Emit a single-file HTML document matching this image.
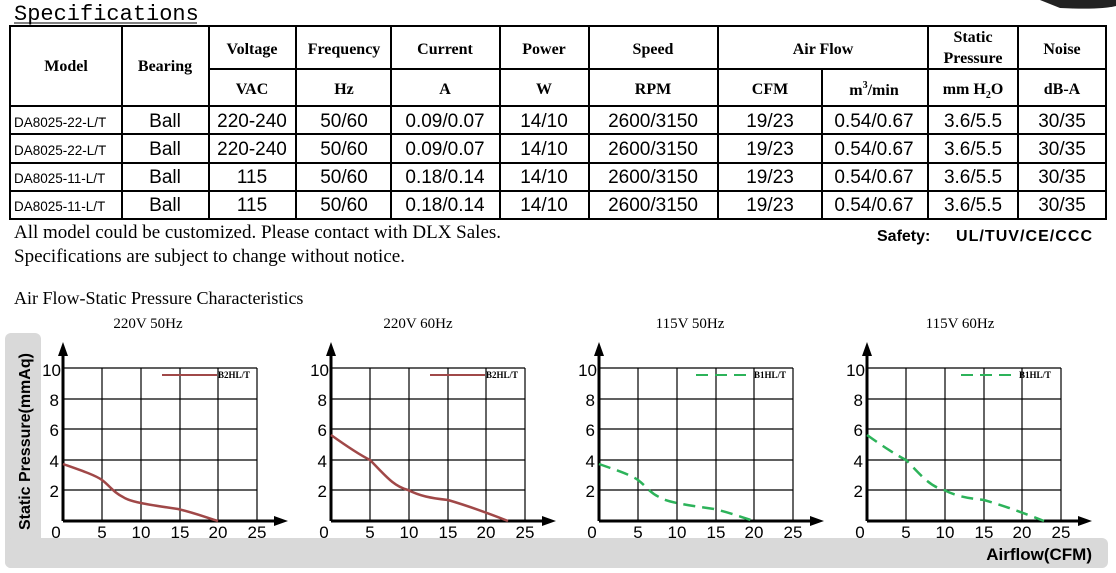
<!DOCTYPE html>
<html><head><meta charset="utf-8"><style>
html,body{margin:0;padding:0;background:#fff;width:1116px;height:573px;overflow:hidden}
svg{display:block}
.hd{font-family:"Liberation Serif",serif;font-weight:bold;font-size:16px;text-anchor:middle}
.dt{font-family:"Liberation Sans",sans-serif;font-size:19px;text-anchor:middle}
.md{font-family:"Liberation Sans",sans-serif;font-size:13.5px}
.tk{font-family:"Liberation Sans",sans-serif;font-size:17px}
.ct{font-family:"Liberation Serif",serif;font-size:15px;text-anchor:middle}
.lg{font-family:"Liberation Serif",serif;font-weight:bold;font-size:9px}
</style></head><body>
<svg width="1116" height="573" viewBox="0 0 1116 573">
<path d="M1040 0 H1116 V6 Q1100 10 1060 8 Z" fill="#222"/>
<text x="14" y="20" font-family="Liberation Mono,monospace" font-size="22">Specifications</text>
<line x1="14" y1="23" x2="197" y2="23" stroke="#000" stroke-width="1"/>
<g stroke="#000" stroke-width="2" fill="none">
<rect x="10" y="26" width="1096" height="193"/>
<line x1="209" y1="69" x2="1106" y2="69"/>
<line x1="10" y1="106" x2="1106" y2="106"/>
<line x1="10" y1="134" x2="1106" y2="134"/>
<line x1="10" y1="163" x2="1106" y2="163"/>
<line x1="10" y1="191" x2="1106" y2="191"/>
<line x1="122" y1="26" x2="122" y2="219"/>
<line x1="209" y1="26" x2="209" y2="219"/>
<line x1="296" y1="26" x2="296" y2="219"/>
<line x1="391" y1="26" x2="391" y2="219"/>
<line x1="500" y1="26" x2="500" y2="219"/>
<line x1="589" y1="26" x2="589" y2="219"/>
<line x1="718" y1="26" x2="718" y2="219"/>
<line x1="822" y1="69" x2="822" y2="219"/>
<line x1="928" y1="26" x2="928" y2="219"/>
<line x1="1018" y1="26" x2="1018" y2="219"/>
</g>
<g class="hd">
<text x="66" y="71">Model</text><text x="165" y="71">Bearing</text>
<text x="252" y="54">Voltage</text><text x="344" y="54">Frequency</text><text x="445" y="54">Current</text>
<text x="544" y="54">Power</text><text x="653" y="54">Speed</text><text x="823" y="54">Air Flow</text>
<text x="973" y="42">Static</text><text x="973" y="63">Pressure</text><text x="1062" y="54">Noise</text>
<text x="252" y="94">VAC</text><text x="344" y="94">Hz</text><text x="445" y="94">A</text><text x="544" y="94">W</text>
<text x="653" y="94">RPM</text><text x="770" y="94">CFM</text><text x="874" y="95">m<tspan font-size="10" dy="-7">3</tspan><tspan dy="7">/min</tspan></text>
<text x="973" y="94">mm H<tspan font-size="10" dy="4">2</tspan><tspan dy="-4">O</tspan></text><text x="1062" y="94">dB-A</text>
</g>
<g>
<g class="md"><text x="14" y="127">DA8025-22-L/T</text><text x="14" y="155">DA8025-22-L/T</text><text x="14" y="183">DA8025-11-L/T</text><text x="14" y="211">DA8025-11-L/T</text></g>
<g class="dt">
<text x="165" y="127">Ball</text><text x="252" y="127">220-240</text><text x="344" y="127">50/60</text><text x="445" y="127">0.09/0.07</text><text x="544" y="127">14/10</text><text x="653" y="127">2600/3150</text><text x="770" y="127">19/23</text><text x="874" y="127">0.54/0.67</text><text x="973" y="127">3.6/5.5</text><text x="1062" y="127">30/35</text>
<text x="165" y="155">Ball</text><text x="252" y="155">220-240</text><text x="344" y="155">50/60</text><text x="445" y="155">0.09/0.07</text><text x="544" y="155">14/10</text><text x="653" y="155">2600/3150</text><text x="770" y="155">19/23</text><text x="874" y="155">0.54/0.67</text><text x="973" y="155">3.6/5.5</text><text x="1062" y="155">30/35</text>
<text x="165" y="183">Ball</text><text x="252" y="183">115</text><text x="344" y="183">50/60</text><text x="445" y="183">0.18/0.14</text><text x="544" y="183">14/10</text><text x="653" y="183">2600/3150</text><text x="770" y="183">19/23</text><text x="874" y="183">0.54/0.67</text><text x="973" y="183">3.6/5.5</text><text x="1062" y="183">30/35</text>
<text x="165" y="211">Ball</text><text x="252" y="211">115</text><text x="344" y="211">50/60</text><text x="445" y="211">0.18/0.14</text><text x="544" y="211">14/10</text><text x="653" y="211">2600/3150</text><text x="770" y="211">19/23</text><text x="874" y="211">0.54/0.67</text><text x="973" y="211">3.6/5.5</text><text x="1062" y="211">30/35</text>
</g></g>
<g font-family="Liberation Serif,serif" font-size="19">
<text x="14" y="238">All model could be customized. Please contact with DLX Sales.</text>
<text x="14" y="262">Specifications are subject to change without notice.</text>
<text x="14" y="304" font-size="18">Air Flow-Static Pressure Characteristics</text>
</g>
<text x="877" y="241" font-family="Liberation Sans,sans-serif" font-weight="bold" font-size="16">Safety:</text>
<text x="956" y="241" font-family="Liberation Sans,sans-serif" font-weight="bold" font-size="16" textLength="136">UL/TUV/CE/CCC</text>
<rect x="5" y="333" width="36" height="235" rx="6" fill="#d9d9d9"/>
<rect x="5" y="538" width="1103" height="30" rx="6" fill="#d9d9d9"/>
<rect x="41" y="333" width="20" height="205" fill="#fff"/>
<text transform="translate(30,530) rotate(-90)" font-family="Liberation Sans,sans-serif" font-weight="bold" font-size="16">Static Pressure(mmAq)</text>
<text x="1092" y="560" text-anchor="end" font-family="Liberation Sans,sans-serif" font-weight="bold" font-size="17">Airflow(CFM)</text>
<defs>
<g id="ax">
<g stroke="#000" stroke-width="1.2">
<line x1="102" y1="368" x2="102" y2="521"/><line x1="141" y1="368" x2="141" y2="521"/><line x1="180" y1="368" x2="180" y2="521"/><line x1="218" y1="368" x2="218" y2="521"/><line x1="257" y1="368" x2="257" y2="521"/>
<line x1="63" y1="368" x2="257" y2="368"/><line x1="63" y1="399" x2="257" y2="399"/><line x1="63" y1="429" x2="257" y2="429"/><line x1="63" y1="460" x2="257" y2="460"/><line x1="63" y1="490" x2="257" y2="490"/>
</g>
<line x1="63" y1="521" x2="280" y2="521" stroke="#000" stroke-width="3"/>
<line x1="63" y1="521" x2="63" y2="350" stroke="#000" stroke-width="3"/>
<path d="M63 342 L58 356 L68 356 Z M288 521 L274 516 L274 526 Z" fill="#000"/>
<g class="tk" text-anchor="end"><text x="61" y="376">10</text><text x="59" y="406">8</text><text x="59" y="436">6</text><text x="59" y="467">4</text><text x="59" y="497">2</text></g>
<g class="tk" text-anchor="middle"><text x="56" y="538">0</text><text x="102" y="538">5</text><text x="141" y="538">10</text><text x="180" y="538">15</text><text x="218" y="538">20</text><text x="257" y="538">25</text></g>
</g>
</defs>
<use href="#ax"/>
<use href="#ax" x="268"/>
<use href="#ax" x="536"/>
<use href="#ax" x="804"/>
<g class="ct"><text x="148" y="328">220V 50Hz</text><text x="418" y="328">220V 60Hz</text><text x="690" y="328">115V 50Hz</text><text x="960" y="328">115V 60Hz</text></g>
<path d="M63 464 C80 470 95 475 102 480 C110 486 113 492 123 497 C130 502 150 505 178 509 C195 513 205 517 218 521" fill="none" stroke="#a04848" stroke-width="2.5"/>
<path d="M331 435 C345 445 360 455 370 460 C385 475 393 486 408 490 C420 496 430 498 448 500 C465 505 480 510 508 521" fill="none" stroke="#a04848" stroke-width="2.5"/>
<path d="M599 464 C616 470 631 475 638 480 C646 486 649 492 659 497 C666 502 686 505 714 509 C731 513 741 517 754 521" fill="none" stroke="#2db35a" stroke-width="2.5" stroke-dasharray="12 7"/>
<path d="M867 435 C881 445 896 455 906 460 C921 475 929 486 944 490 C956 496 966 498 984 500 C1001 505 1016 510 1044 521" fill="none" stroke="#2db35a" stroke-width="2.5" stroke-dasharray="12 7"/>
<line x1="162" y1="375" x2="217" y2="375" stroke="#a04848" stroke-width="2"/><text x="218" y="378" class="lg">B2HL/T</text>
<line x1="430" y1="375" x2="485" y2="375" stroke="#a04848" stroke-width="2"/><text x="486" y="378" class="lg">B2HL/T</text>
<line x1="696" y1="375" x2="753" y2="375" stroke="#2db35a" stroke-width="2" stroke-dasharray="12 7"/><text x="754" y="378" class="lg">B1HL/T</text>
<line x1="961" y1="375" x2="1018" y2="375" stroke="#2db35a" stroke-width="2" stroke-dasharray="12 7"/><text x="1019" y="378" class="lg">B1HL/T</text>
</svg>
</body></html>
